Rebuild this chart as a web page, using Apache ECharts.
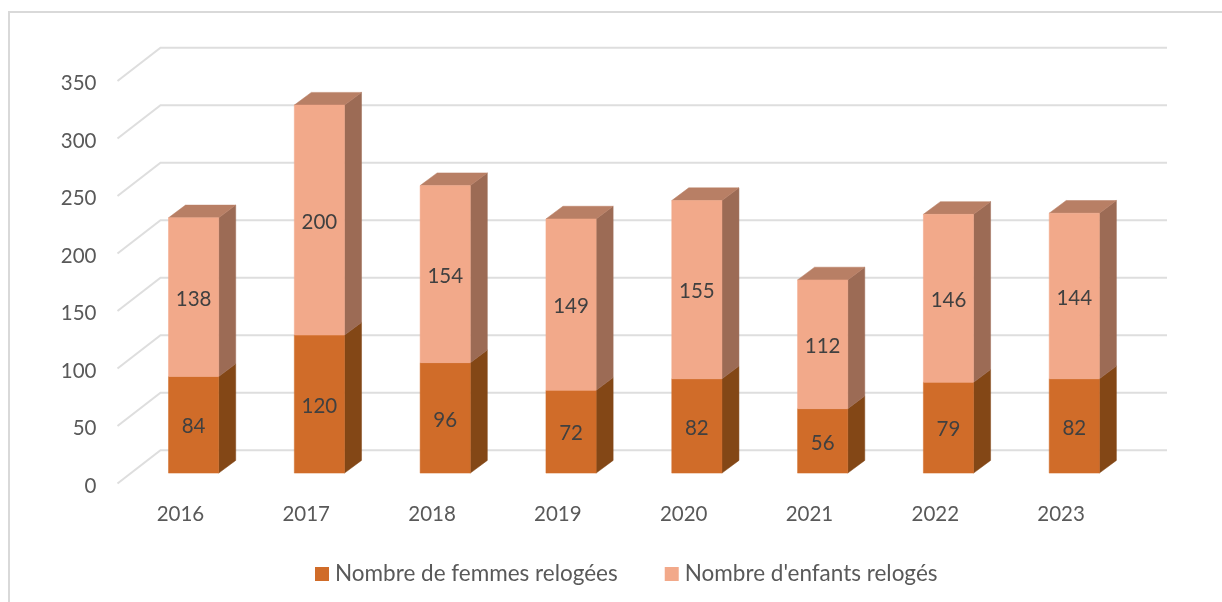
<!DOCTYPE html>
<html>
<head>
<meta charset="utf-8">
<title>Relogements</title>
<script src="https://cdn.jsdelivr.net/npm/echarts@6/dist/echarts.min.js"></script>
<style>
  html, body { margin: 0; padding: 0; background: #fff; }
  #chart { width: 1222px; height: 602px; }
</style>
</head>
<body>
<div id="chart"></div>
<script>
// données
const annees = ['2016', '2017', '2018', '2019', '2020', '2021', '2022', '2023'];
const femmes = [84, 120, 96, 72, 82, 56, 79, 82];
const enfants = [138, 200, 154, 149, 155, 112, 146, 144];
const graduations = [0, 50, 100, 150, 200, 250, 300, 350];

const police = 'Lato, "Noto Sans", sans-serif';
const chart = echarts.init(document.getElementById('chart'));

// décalages de la perspective (mur du fond, position et profondeur des barres)
const murX = 43, murY = 33.3;
const barreX = 13.2, barreY = 10.4;
const profX = 17, profY = 12.7;
const largeur = 50.2;

function renderMur(params, api) {
    const box = params.coordSys;
    const p = api.coord([0, api.value(0)]);
    const y = p[1];
    return {
        type: 'polyline',
        shape: { points: [[box.x, y], [box.x + murX, y - murY], [box.x + box.width + murX, y - murY]] },
        style: { stroke: '#dedede', lineWidth: 2, fill: null }
    };
}

function poly(points, fill) {
    return { type: 'polygon', shape: { points: points }, style: { fill: fill, stroke: fill, lineWidth: 0.5 } };
}

function renderBarre(couleurs, avecDessus) {
    return function (params, api) {
        const bas = api.coord([api.value(0), api.value(1)]);
        const haut = api.coord([api.value(0), api.value(1) + api.value(2)]);
        const cx = bas[0] + barreX;
        const g = cx - largeur / 2, d = cx + largeur / 2;
        const y0 = bas[1] - barreY, y1 = haut[1] - barreY;
        const faces = [
            poly([[d, y0], [d + profX, y0 - profY], [d + profX, y1 - profY], [d, y1]], couleurs.cote)
        ];
        if (avecDessus) {
            faces.push(poly([[g, y1], [g + profX, y1 - profY], [d + profX, y1 - profY], [d, y1]], couleurs.dessus));
        }
        faces.push(poly([[g, y0], [d, y0], [d, y1], [g, y1]], couleurs.face));
        faces.push({
            type: 'text',
            style: {
                text: String(api.value(2)),
                x: cx, y: (y0 + y1) / 2 + 2,
                align: 'center', verticalAlign: 'middle',
                fill: '#404040', font: '20.5px ' + police
            }
        });
        return { type: 'group', children: faces };
    };
}

const option = {
    animation: false,
    backgroundColor: '#fff',
    textStyle: { fontFamily: police },
    graphic: [{
        type: 'polyline',
        silent: true,
        shape: { points: [[9, 602], [9, 12], [1222, 12]] },
        style: { stroke: '#d9d9d9', lineWidth: 2, fill: null }
    }],
    legend: {
        data: ['Nombre de femmes relogées', "Nombre d'enfants relogés"],
        left: 310, top: 557.5,
        itemWidth: 14, itemHeight: 14, itemGap: 47,
        icon: 'rect',
        textStyle: { color: '#595959', fontSize: 22.5, fontFamily: police, padding: [0, 0, 0, 1] }
    },
    grid: { left: 117.5, top: 81, width: 1006.5, height: 402.5 },
    xAxis: {
        type: 'category',
        data: annees,
        axisLine: { show: false },
        axisTick: { show: false },
        axisLabel: { color: '#595959', fontSize: 20.5, margin: 20 }
    },
    yAxis: {
        type: 'value',
        min: 0, max: 350, interval: 50,
        axisLine: { show: false },
        axisTick: { show: false },
        splitLine: { show: false },
        axisLabel: {
            margin: 21,
            formatter: '{t|{value}}',
            rich: { t: { color: '#595959', fontSize: 20.5, fontFamily: police, padding: [5, 0, 0, 0] } }
        }
    },
    series: [
        {
            name: 'mur',
            type: 'custom',
            silent: true,
            renderItem: renderMur,
            encode: { y: 0 },
            data: graduations.map(v => [v])
        },
        {
            name: 'Nombre de femmes relogées',
            type: 'custom',
            renderItem: renderBarre({ face: '#d06c29', cote: '#834716', dessus: '#9c5a2a' }, false),
            itemStyle: { color: '#d06c29' },
            encode: { x: 0, y: 2 },
            data: femmes.map((v, i) => [i, 0, v])
        },
        {
            name: "Nombre d'enfants relogés",
            type: 'custom',
            renderItem: renderBarre({ face: '#f2a98a', cote: '#9c6b55', dessus: '#b87f65' }, true),
            itemStyle: { color: '#f2a98a' },
            encode: { x: 0, y: 2 },
            data: enfants.map((v, i) => [i, femmes[i], v])
        }
    ]
};
chart.setOption(option);

window.addEventListener('resize', function () { chart.resize(); });
</script>
</body>
</html>
